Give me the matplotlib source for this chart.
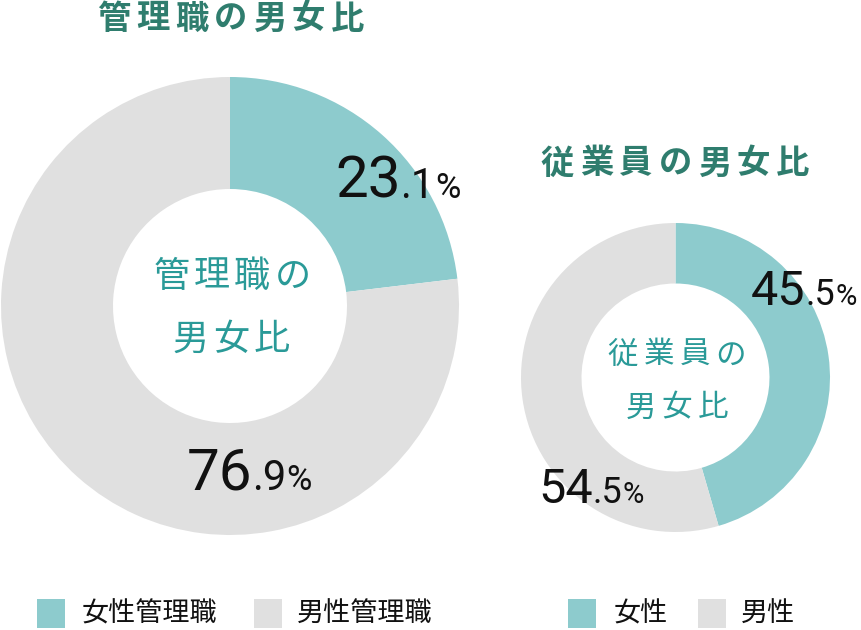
import matplotlib
matplotlib.use("Agg")
import matplotlib.pyplot as plt

plt.rcParams["font.family"] = ["Noto Sans CJK JP", "DejaVu Sans"]

# データ
mgr_labels = ["女性管理職", "男性管理職"]
mgr_values = [23.1, 76.9]
emp_labels = ["女性", "男性"]
emp_values = [45.5, 54.5]
mgr_title = "管理職の男女比"
emp_title = "従業員の男女比"

TEAL = "#8dcbcd"
GRAY = "#e0e0e0"
TITLE_C = "#2f7d6e"
CENTER_C = "#2a9a98"
NUM_FONT = "Roboto"

W, H = 862, 630
fig = plt.figure(figsize=(W / 100, H / 100), dpi=100)
ax = fig.add_axes([0, 0, 1, 1])


def Y(y):
    # 上端基準のピクセル → データ座標
    return H - y


def spaced(text, x0, step, y, size, color, weight="normal"):
    for i, ch in enumerate(text):
        ax.text(x0 + step * (i + 0.5), Y(y), ch, ha="center", va="center",
                fontsize=size, color=color, fontweight=weight)


def donut(values, cx, cy, r_out, r_in):
    ax.pie(values, colors=[TEAL, GRAY], startangle=90, counterclock=False,
           center=(cx, Y(cy)), radius=r_out,
           wedgeprops=dict(width=r_out - r_in, edgecolor="none"))


def pct(value, x0, base, big, mid, small):
    s = f"{value:.1f}"
    ip, dp = s.split(".")
    renderer = fig.canvas.get_renderer()
    x = x0
    for part, size in [(ip, big), ("." + dp, mid), ("%", small)]:
        t = ax.text(x, Y(base), part, ha="left", va="baseline", fontsize=size,
                    color="#111111", family=NUM_FONT)
        bb = t.get_window_extent(renderer)
        x = x + bb.width * W / fig.bbox.width


donut(mgr_values, 230, 306, 229, 117)
donut(emp_values, 675.5, 377.5, 154.5, 94)

ax.set_xlim(0, W)
ax.set_ylim(0, H)
ax.axis("off")

# タイトル
spaced(mgr_title, 94, 39.0, 19, 24, TITLE_C, "bold")
spaced(emp_title, 538, 39.2, 164, 24, TITLE_C, "bold")

# 中央テキスト
spaced(mgr_title[:4], 151, 40.5, 277, 26, CENTER_C)
spaced(mgr_title[4:], 170, 40.5, 340, 26, CENTER_C)
spaced(emp_title[:4], 605, 36, 355, 22, CENTER_C)
spaced(emp_title[4:], 623, 36, 408, 22, CENTER_C)

# パーセント
pct(mgr_values[0], 335, 198, 42, 30, 25)
pct(mgr_values[1], 187, 490, 42, 30, 25)
pct(emp_values[0], 751, 305, 35, 26, 21)
pct(emp_values[1], 538, 503, 35, 26, 21)

# 凡例
legend_items = [
    (37, 82, TEAL, mgr_labels[0]),
    (254, 297, GRAY, mgr_labels[1]),
    (568, 614, TEAL, emp_labels[0]),
    (698, 741, GRAY, emp_labels[1]),
]
for sx, tx, col, lab in legend_items:
    ax.add_patch(plt.Rectangle((sx, Y(628)), 28, 29, color=col, lw=0))
    ax.text(tx, Y(614), lab, ha="left", va="center", fontsize=19.5,
            color="#111111")

fig.savefig("out.png", dpi=100)
